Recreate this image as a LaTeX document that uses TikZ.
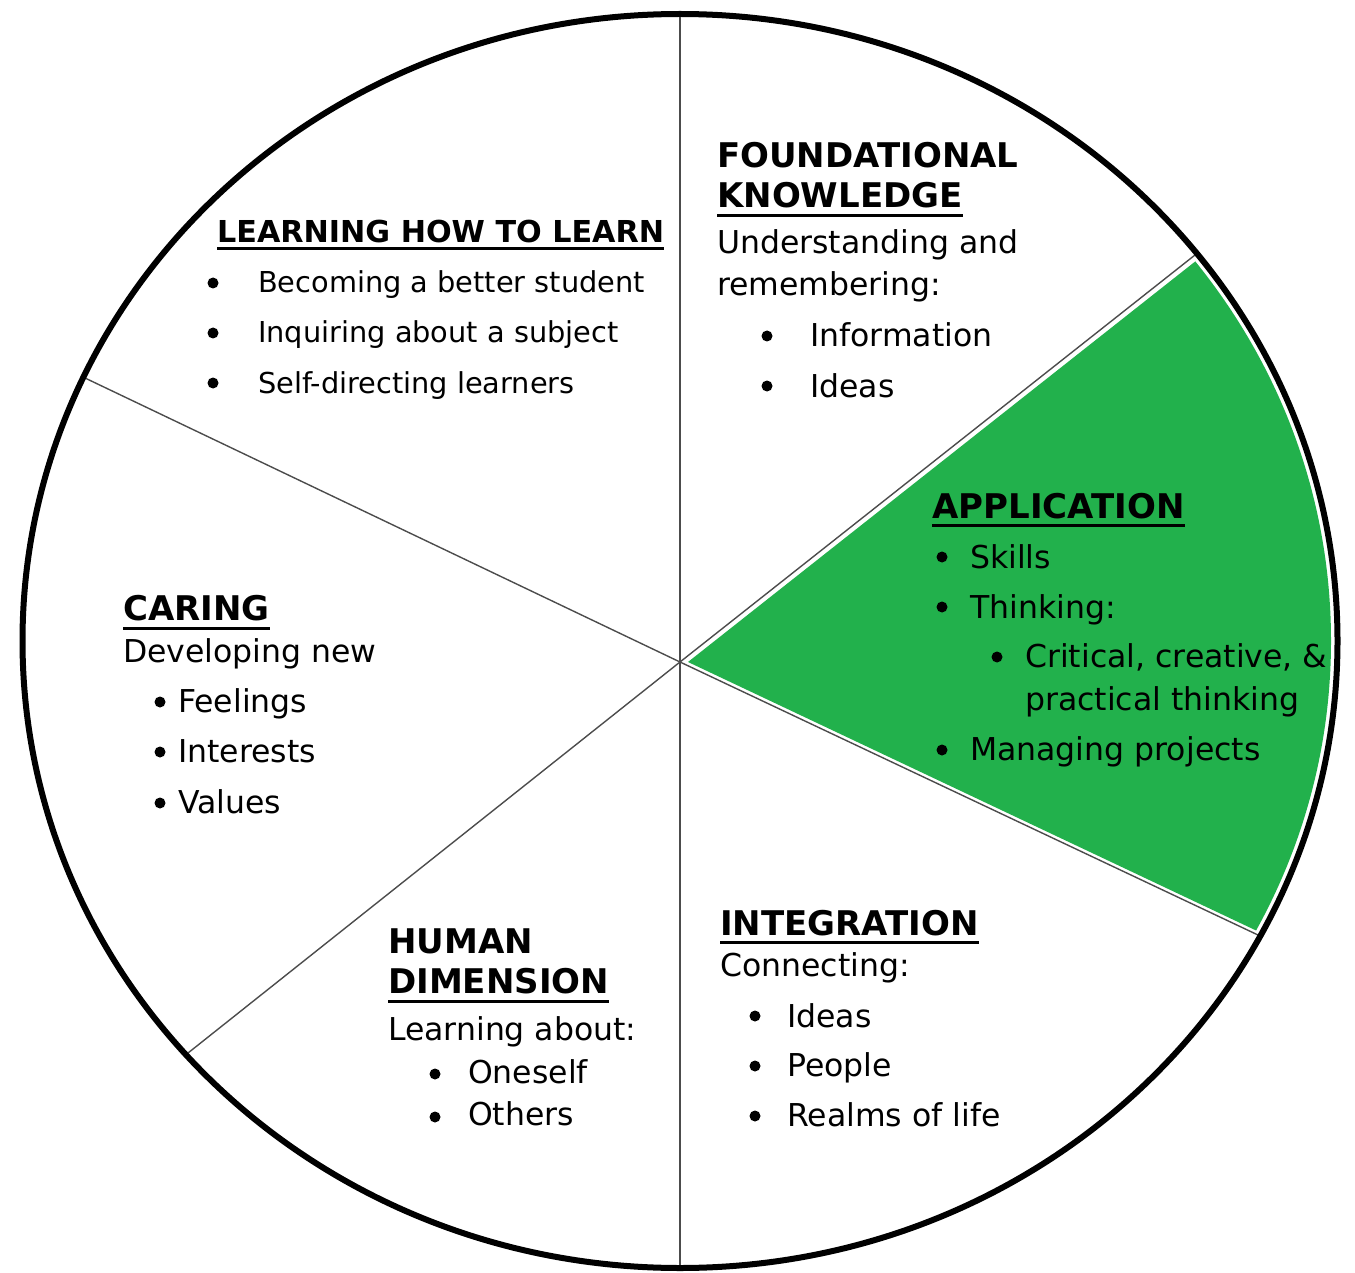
\documentclass[tikz,border=0pt]{standalone}
\usepackage{fontspec}
\setmainfont{DejaVu Sans}
\begin{document}
\begin{tikzpicture}[x=1pt,y=-1pt,
  txt/.style={anchor=base west, inner sep=0pt, font=\fontsize{31.5}{38}\selectfont},
  txts/.style={anchor=base west, inner sep=0pt, font=\fontsize{28.8}{35}\selectfont},
  hd/.style={anchor=base west, inner sep=0pt, font=\fontsize{34}{40}\selectfont\bfseries},
  hds/.style={anchor=base west, inner sep=0pt, font=\fontsize{30.2}{36}\selectfont\bfseries},
  bul/.style={circle, fill=black, inner sep=0pt, minimum size=11pt},
  spoke/.style={draw=black!70, line width=1.4pt},
  ul/.style={line width=3pt},
  rim/.style={line width=6pt}
]
\definecolor{appgreen}{RGB}{34,177,76}
\useasboundingbox (0,0) rectangle (1355,1273);
% centre of spokes
\coordinate (c) at (680,662);
\coordinate (top) at (680,14);
\coordinate (bot) at (680,1268);
\coordinate (ur) at (1195,255);
\coordinate (lr) at (1258,935);
\coordinate (ul) at (85,378);
\coordinate (ll) at (188,1053);
% green wedge
\begin{scope}
  \clip (680,641) ellipse [x radius=651, y radius=621];
  \fill[appgreen] (688,662) -- (1306,174) -- (1500,174) -- (1500,1000) -- (1382,990) -- cycle;
\end{scope}
% spokes
\draw[spoke] (top) -- (bot);
\draw[spoke] (c) -- (ur);
\draw[spoke] (c) -- (lr);
\draw[spoke] (c) -- (ul);
\draw[spoke] (c) -- (ll);
% rim
\draw[rim] (680,641) ellipse [x radius=657.5, y radius=627];

% LEARNING HOW TO LEARN
\node[hds] (lh) at (217,243) {LEARNING HOW TO LEARN};
\draw[ul] ([yshift=-6pt]lh.base west) -- ([yshift=-6pt]lh.base east);
\node[bul] (lb1) at (213,283) {};
\node[txts] (lt1) at (258,293) {Becoming a better student};
\node[bul] (lb2) at (213,333) {};
\node[txts] (lt2) at (258,343) {Inquiring about a subject};
\node[bul] (lb3) at (213,383) {};
\node[txts] (lt3) at (258,393) {Self-directing learners};

% FOUNDATIONAL KNOWLEDGE
\node[hd] (fh1) at (717,168) {FOUNDATIONAL};
\node[hd] (fh2) at (717,208) {KNOWLEDGE};
\draw[ul] ([yshift=-8pt]fh2.base west) -- ([yshift=-8pt]fh2.base east);
\node[txt] (ft1) at (717,254) {Understanding and};
\node[txt] (ft2) at (717,296) {remembering:};
\node[bul] (fb1) at (767,336) {};
\node[txt] (ft3) at (810,347) {Information};
\node[bul] (fb2) at (767,386) {};
\node[txt] (ft4) at (810,397) {Ideas};

% APPLICATION
\node[hd] (ah) at (932,518) {APPLICATION};
\draw[ul] ([yshift=-7pt]ah.base west) -- ([yshift=-7pt]ah.base east);
\node[bul] (ab1) at (942,557) {};
\node[txt] (at1) at (970,568) {Skills};
\node[bul] (ab2) at (942,607) {};
\node[txt] (at2) at (970,618) {Thinking:};
\node[bul] (ab3) at (997,657) {};
\node[txt] (at3) at (1025,667) {Critical, creative, \&};
\node[txt] (at4) at (1025,710) {practical thinking};
\node[bul] (ab4) at (942,750) {};
\node[txt] (at5) at (970,760) {Managing projects};

% CARING
\node[hd] (ch) at (123,620) {CARING};
\draw[ul] ([yshift=-8pt]ch.base west) -- ([yshift=-8pt]ch.base east);
\node[txt] (ct1) at (123,662) {Developing new};
\node[bul] (cb1) at (160,702) {};
\node[txt] (ct2) at (178,712) {Feelings};
\node[bul] (cb2) at (160,752) {};
\node[txt] (ct3) at (178,762) {Interests};
\node[bul] (cb3) at (160,803) {};
\node[txt] (ct4) at (178,813) {Values};

% HUMAN DIMENSION
\node[hd] (hh1) at (388,953) {HUMAN};
\node[hd] (hh2) at (388,993) {DIMENSION};
\draw[ul] ([yshift=-8pt]hh2.base west) -- ([yshift=-8pt]hh2.base east);
\node[txt] (ht1) at (388,1040) {Learning about:};
\node[bul] (hb1) at (435,1074) {};
\node[txt] (ht2) at (468,1083) {Oneself};
\node[bul] (hb2) at (435,1117) {};
\node[txt] (ht3) at (468,1125) {Others};

% INTEGRATION
\node[hd] (ih) at (720,935) {INTEGRATION};
\draw[ul] ([yshift=-7pt]ih.base west) -- ([yshift=-7pt]ih.base east);
\node[txt] (it1) at (720,976) {Connecting:};
\node[bul] (ib1) at (755,1016) {};
\node[txt] (it2) at (787,1027) {Ideas};
\node[bul] (ib2) at (755,1066) {};
\node[txt] (it3) at (787,1076) {People};
\node[bul] (ib3) at (755,1116) {};
\node[txt] (it4) at (787,1126) {Realms of life};
\end{tikzpicture}
\end{document}
